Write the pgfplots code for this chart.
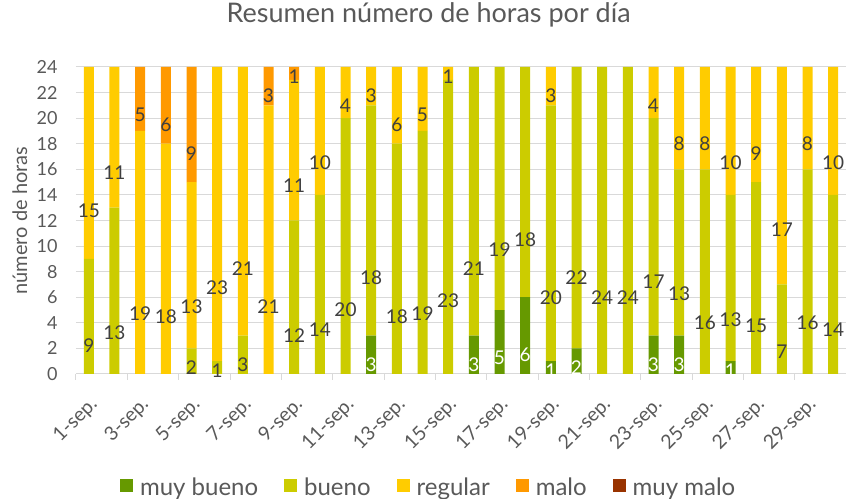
\documentclass[border=0pt]{standalone}
\usepackage{pgfplots}
\pgfplotsset{compat=1.18}
\usepackage{pgfplotstable}
\usepackage{fontspec}
\setmainfont{Lato}

\definecolor{muybueno}{HTML}{669900}
\definecolor{bueno}{HTML}{CCCC00}
\definecolor{regular}{HTML}{FFCC00}
\definecolor{malo}{HTML}{FF9900}
\definecolor{muymalo}{HTML}{993300}
\definecolor{txt}{HTML}{595959}
\definecolor{lbl}{HTML}{404040}
\definecolor{grd}{HTML}{D9D9D9}

% horas por dia: muy bueno, bueno, regular, malo, muy malo
\pgfplotstableread{
d  mb  b   r   m  mm
1  0   9   15  0  0
2  0   13  11  0  0
3  0   0   19  5  0
4  0   0   18  6  0
5  0   2   13  9  0
6  0   1   23  0  0
7  0   3   21  0  0
8  0   0   21  3  0
9  0   12  11  1  0
10 0   14  10  0  0
11 0   20  4   0  0
12 3   18  3   0  0
13 0   18  6   0  0
14 0   19  5   0  0
15 0   23  1   0  0
16 3   21  0   0  0
17 5   19  0   0  0
18 6   18  0   0  0
19 1   20  3   0  0
20 2   22  0   0  0
21 0   24  0   0  0
22 0   24  0   0  0
23 3   17  4   0  0
24 3   13  8   0  0
25 0   16  8   0  0
26 1   13  10  0  0
27 0   15  9   0  0
28 0   7   17  0  0
29 0   16  8   0  0
30 0   14  10  0  0
}\horas

% the shift turns out applied twice, so a quarter unit moves a label half a segment
\newcommand{\halfunit}{3.198pt}

\begin{document}
\begin{tikzpicture}
\begin{axis}[
    scale only axis,
    width=770pt, height=307pt,
    ybar stacked,
    bar width=10pt,
    xmin=0.5, xmax=30.5,
    ymin=0, ymax=24,
    ytick={0,2,...,24},
    xtick={1,3,...,29},
    xticklabels={1-sep.,3-sep.,5-sep.,7-sep.,9-sep.,11-sep.,13-sep.,15-sep.,17-sep.,19-sep.,21-sep.,23-sep.,25-sep.,27-sep.,29-sep.},
    extra x ticks={0.5,2.5,...,30.5},
    extra x tick labels={},
    extra x tick style={major tick length=6pt, tick style={grd, line width=1pt}, grid=none},
    major tick length=0pt,
    tick align=outside,
    axis x line*=bottom,
    axis y line*=left,
    x axis line style={grd, line width=1pt},
    y axis line style={draw=none},
    ymajorgrids,
    major grid style={grd, line width=1pt},
    /pgf/number format/assume math mode=true,
    tick label style={txt},
    yticklabel style={font=\fontsize{18}{18}\selectfont, xshift=-15pt},
    xticklabel style={font=\fontsize{19.5}{19.5}\selectfont, xshift=8pt, yshift=-25pt, rotate=45, anchor=east},
    ylabel={número de horas},
    ylabel style={font=\fontsize{20}{20}\selectfont, txt, at={(axis description cs:-0.073,0.5)}, anchor=center},
    title={Resumen número de horas por día},
    title style={font=\fontsize{27}{27}\selectfont, txt, at={(axis description cs:0.458,1.15)}, anchor=center},
    point meta=explicit symbolic,
    nodes near coords={\ifnum\pgfplotspointmeta=0 \else\pgfplotspointmeta\fi},
    every node near coord/.append style={font=\fontsize{19}{19}\selectfont, lbl, anchor=center, inner sep=0pt, yshift=-\pgfplotspointmeta*\halfunit},
    legend columns=5,
    legend style={draw=none, font=\fontsize{24}{24}\selectfont, text=txt,
        at={(axis description cs:0.458,-0.368)}, anchor=center,
        /tikz/every odd column/.append style={column sep=5pt},
        /tikz/every even column/.append style={column sep=24pt}},
    legend image code/.code={\fill[#1] (0pt,-5pt) rectangle (13pt,8pt);},
]
\addplot[fill=muybueno, draw=none, every node near coord/.append style={white}] table[x=d, y=mb, meta=mb] {\horas};
\addplot[fill=bueno, draw=none] table[x=d, y=b, meta=b] {\horas};
\addplot[fill=regular, draw=none] table[x=d, y=r, meta=r] {\horas};
\addplot[fill=malo, draw=none] table[x=d, y=m, meta=m] {\horas};
\addplot[fill=muymalo, draw=none] table[x=d, y=mm, meta=mm] {\horas};
\legend{muy bueno, bueno, regular, malo, muy malo}
\end{axis}
\pgfresetboundingbox
\path[use as bounding box] ([xshift=-76pt, yshift=-125pt]rel axis cs:0,0) rectangle ([yshift=67pt]rel axis cs:1,1);
\end{tikzpicture}
\end{document}
